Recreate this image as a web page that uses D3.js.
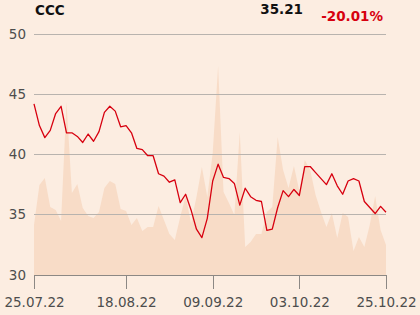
<!DOCTYPE html>
<html>
<head>
<meta charset="utf-8">
<script src="https://cdn.jsdelivr.net/npm/d3@7"></script>
<style>
  html, body { margin: 0; padding: 0; background: #fcede1; }
  #chart { width: 420px; height: 315px; }
  text { font-family: "DejaVu Sans", sans-serif; }
</style>
</head>
<body>
<div id="chart"></div>
<script>
// closing prices, one per session (25.07.22 - 25.10.22)
var prices = [44.2, 42.4, 41.4, 42.0, 43.4, 44.0, 41.8, 41.8, 41.5, 41.0,
              41.7, 41.1, 41.9, 43.5, 44.0, 43.6, 42.3, 42.4, 41.8, 40.5,
              40.4, 39.9, 39.9, 38.4, 38.2, 37.7, 37.9, 36.0, 36.7, 35.4,
              33.8, 33.1, 34.7, 37.8, 39.2, 38.1, 38.0, 37.6, 35.8, 37.2,
              36.5, 36.2, 36.1, 33.7, 33.8, 35.6, 37.0, 36.5, 37.1, 36.6,
              39.0, 39.0, 38.5, 38.0, 37.5, 38.4, 37.4, 36.7, 37.8, 38.0,
              37.8, 36.1, 35.6, 35.1, 35.7, 35.21];

// traded volume (thousands of shares)
var volumes = [250, 450, 485, 340, 325, 270, 865, 410, 455, 335,
               295, 285, 315, 435, 470, 455, 330, 320, 250, 285,
               220, 240, 240, 345, 275, 205, 175, 290, 395, 260,
               390, 540, 390, 610, 1045, 415, 360, 300, 715, 140,
               165, 205, 205, 315, 340, 690, 525, 435, 545, 420,
               575, 525, 400, 315, 240, 310, 185, 310, 290, 120,
               190, 140, 250, 395, 225, 150];

// session index -> date label
var tickIndex = [0, 17, 33, 49, 65];
var tickLabels = ["25.07.22", "18.08.22", "09.09.22", "03.10.22", "25.10.22"];
var yTicks = [30, 35, 40, 45, 50];

var title = "CCC";
var lastPrice = "35.21";
var change = "-20.01%";

var margin = {top: 34, right: 34, bottom: 40, left: 34},
    width = 420 - margin.left - margin.right,
    height = 315 - margin.top - margin.bottom;

var svg = d3.select("#chart")
    .append("svg")
    .attr("width", 420)
    .attr("height", 315);

svg.append("rect")
    .attr("width", 420)
    .attr("height", 315)
    .attr("fill", "#fcede1");

var g = svg.append("g")
    .attr("transform", "translate(" + margin.left + "," + margin.top + ")");

var x = d3.scaleLinear()
    .domain([0, prices.length - 1])
    .range([0, width]);

var y = d3.scaleLinear()
    .domain([30, 50])
    .range([height, 0]);

var yVol = d3.scaleLinear()
    .domain([0, 1205])
    .range([height, 0]);

// volume area in the background
g.append("path")
    .datum(volumes)
    .attr("fill", "#f8dcc7")
    .attr("d", d3.area()
        .x(function(d, i) { return x(i); })
        .y0(height)
        .y1(function(d) { return yVol(d); }));

// grid lines
g.append("g")
    .selectAll("line")
    .data(yTicks.slice(1))
    .enter()
    .append("line")
    .attr("x1", 0)
    .attr("x2", width)
    .attr("y1", function(d) { return y(d); })
    .attr("y2", function(d) { return y(d); })
    .attr("stroke", "#b8b3ae")
    .attr("stroke-width", 1)
    .attr("shape-rendering", "crispEdges");

// y labels
g.append("g")
    .selectAll("text")
    .data(yTicks)
    .enter()
    .append("text")
    .attr("x", -8)
    .attr("y", function(d) { return y(d); })
    .attr("dy", "0.35em")
    .attr("text-anchor", "end")
    .attr("font-size", "13.5px")
    .attr("fill", "#4d4d4d")
    .text(function(d) { return d; });

// x axis
var xAxis = d3.axisBottom(x)
    .tickValues(tickIndex)
    .tickFormat(function(d, i) { return tickLabels[i]; })
    .tickSize(14)
    .tickPadding(8)
    .tickSizeOuter(0);

var ax = g.append("g")
    .attr("transform", "translate(0," + height + ")")
    .call(xAxis);

ax.select(".domain").attr("stroke", "#8c8884").attr("shape-rendering", "crispEdges");
ax.selectAll(".tick line").attr("stroke", "#8c8884").attr("shape-rendering", "crispEdges");
ax.selectAll(".tick text")
    .attr("font-size", "13.5px")
    .attr("font-family", "DejaVu Sans, sans-serif")
    .attr("fill", "#4d4d4d");

// price line
g.append("path")
    .datum(prices)
    .attr("fill", "none")
    .attr("stroke", "#d7000f")
    .attr("stroke-width", 1.3)
    .attr("stroke-linejoin", "round")
    .attr("d", d3.line()
        .x(function(d, i) { return x(i); })
        .y(function(d) { return y(d); }));

// header
svg.append("text")
    .attr("x", 35)
    .attr("y", 15)
    .attr("font-size", "13.5px")
    .attr("font-weight", "bold")
    .attr("fill", "#111")
    .text(title);

svg.append("text")
    .attr("x", 303)
    .attr("y", 14)
    .attr("text-anchor", "end")
    .attr("font-size", "13.5px")
    .attr("font-weight", "bold")
    .attr("fill", "#111")
    .text(lastPrice);

svg.append("text")
    .attr("x", 383)
    .attr("y", 21)
    .attr("text-anchor", "end")
    .attr("font-size", "13.5px")
    .attr("font-weight", "bold")
    .attr("fill", "#d7000f")
    .text(change);
</script>
</body>
</html>
